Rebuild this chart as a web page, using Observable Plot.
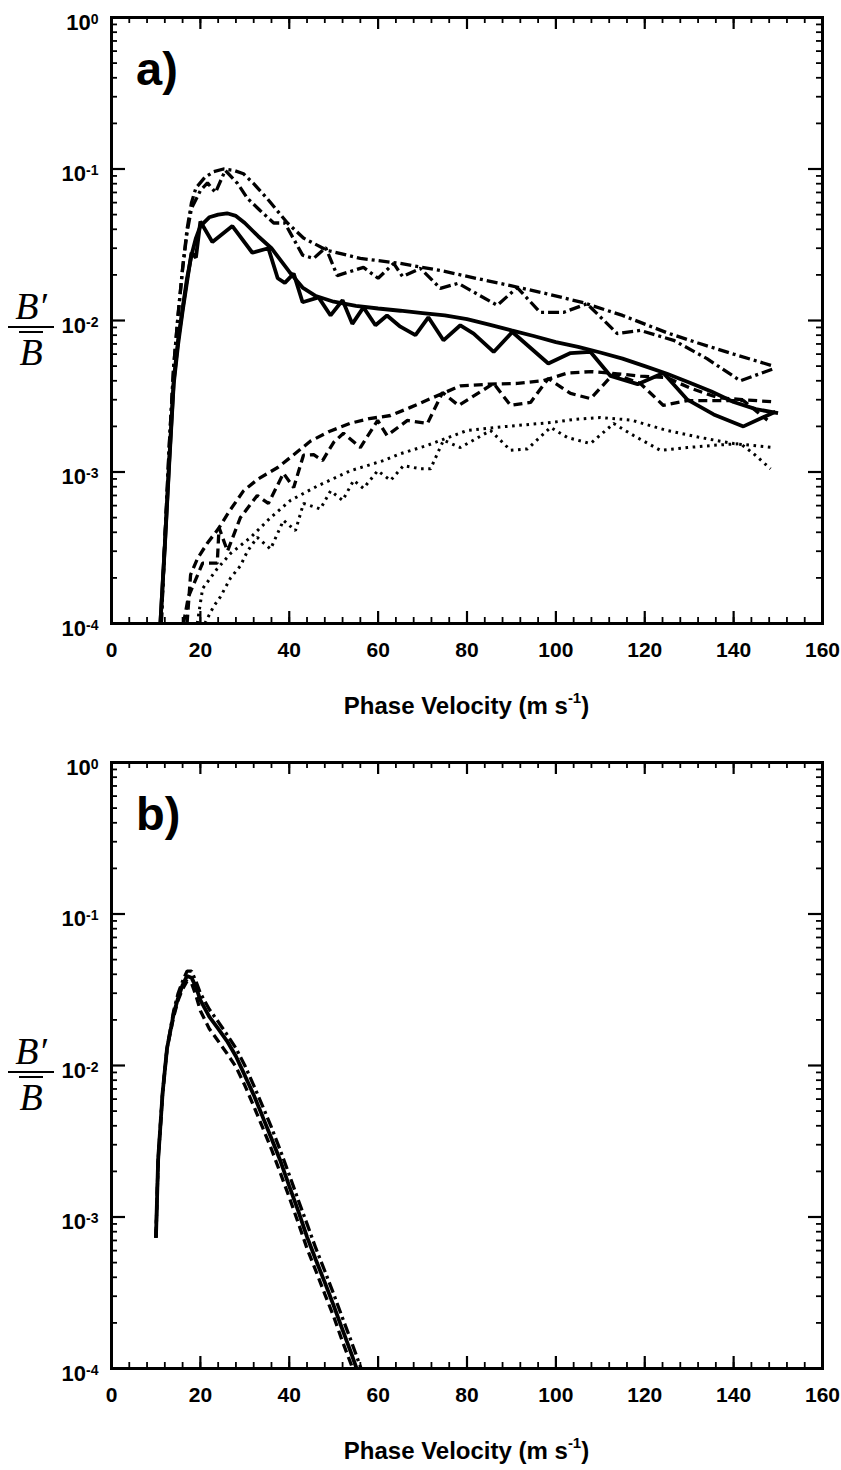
<!DOCTYPE html>
<html><head><meta charset="utf-8">
<script src="https://cdn.jsdelivr.net/npm/d3@7"></script>
<script src="https://cdn.jsdelivr.net/npm/@observablehq/plot@0.6"></script>
<style>
body{margin:0;background:#fff;}
#wrap{position:relative;width:841px;height:1470px;font-family:"Liberation Sans",Arial,Helvetica,sans-serif;}
.panel{position:absolute;left:0;}
.xtitle{position:absolute;left:111px;width:711px;text-align:center;font-weight:bold;font-size:24px;line-height:28px;}
.xtitle sup{font-size:15px;position:relative;top:-2px;}
.plabel{position:absolute;left:136px;font-weight:bold;font-size:47px;line-height:50px;}
.frac{position:absolute;left:8px;width:46px;text-align:center;font-family:"Liberation Serif","Times New Roman",serif;font-style:italic;font-size:38px;line-height:36px;}
.frac .bar{border-top:2.5px solid #000;margin:2px 0 3px 0;}
.frac .ov{display:inline-block;border-top:2.5px solid #000;padding-top:2px;line-height:34px;}
</style>
</head><body>
<div id="wrap">
  <div id="pa" class="panel" style="top:0px"></div>
  <div id="pb" class="panel" style="top:745px"></div>
  <div class="plabel" style="top:44px">a)</div>
  <div class="plabel" style="top:789px">b)</div>
  <div class="frac" style="top:288px"><div>B′</div><div class="bar"></div><span class="ov">B</span></div>
  <div class="frac" style="top:1033px"><div>B′</div><div class="bar"></div><span class="ov">B</span></div>
  <div class="xtitle" style="top:686px">Phase Velocity (m s<sup>-1</sup>)</div>
  <div class="xtitle" style="top:1431px">Phase Velocity (m s<sup>-1</sup>)</div>
</div>
<script>
// ---------------- Panel a data ----------------
const aSolidSmoothX = [11, 12, 13, 14, 15, 16, 17, 18, 19, 20, 22, 24, 26, 28, 30, 33, 36, 40, 43, 46, 50, 55, 60, 65, 70, 75, 80, 85, 90, 95, 100, 105, 110, 115, 120, 125, 130, 135, 140, 145, 150];
const aSolidSmoothY = [1.0e-4, 3.3e-4, 1.2e-3, 4.0e-3, 7.5e-3, 1.2e-2, 1.9e-2, 2.7e-2, 3.5e-2, 4.2e-2, 4.8e-2, 5.0e-2, 5.1e-2, 4.9e-2, 4.4e-2, 3.6e-2, 3.0e-2, 2.1e-2, 1.65e-2, 1.45e-2, 1.33e-2, 1.25e-2, 1.2e-2, 1.16e-2, 1.12e-2, 1.08e-2, 1.02e-2, 9.4e-3, 8.6e-3, 7.9e-3, 7.2e-3, 6.7e-3, 6.15e-3, 5.6e-3, 5.0e-3, 4.45e-3, 3.9e-3, 3.4e-3, 2.9e-3, 2.6e-3, 2.45e-3];

const aSolidJagX = [11, 12, 13, 14, 15, 16, 17, 18, 19, 20, 22.7, 27.2, 31.7, 35.3, 37.4, 39, 41, 43, 46.6, 49.3, 52, 54.2, 56.7, 59.4, 62, 65, 68.4, 71.3, 74.7, 78.5, 81.5, 86, 90.2, 98.3, 103.3, 107.8, 112.3, 118.4, 124.2, 129.6, 135.5, 142.2, 149.4];
const aSolidJagY = [1.0e-4, 3.2e-4, 1.15e-3, 3.8e-3, 7.0e-3, 1.15e-2, 1.8e-2, 2.8e-2, 2.6e-2, 4.5e-2, 3.3e-2, 4.2e-2, 2.8e-2, 3.0e-2, 1.9e-2, 1.77e-2, 2.04e-2, 1.32e-2, 1.42e-2, 1.08e-2, 1.36e-2, 9.5e-3, 1.22e-2, 9.3e-3, 1.08e-2, 9.1e-3, 8.0e-3, 1.05e-2, 7.4e-3, 9.3e-3, 8.2e-3, 6.2e-3, 8.4e-3, 5.2e-3, 6.1e-3, 6.2e-3, 4.3e-3, 3.8e-3, 4.5e-3, 3.0e-3, 2.4e-3, 2.0e-3, 2.5e-3];

const aDashDotSmoothX = [11.2, 12, 13, 14, 15, 16, 17, 18, 19, 21, 23, 25.2, 27.5, 29.7, 32, 35, 39.6, 43.2, 48.6, 56, 65, 74, 82, 89.8, 98, 106.2, 115, 125, 132, 140, 149];
const aDashDotSmoothY = [1.0e-4, 3.5e-4, 1.5e-3, 5.0e-3, 1.1e-2, 2.2e-2, 4.0e-2, 6.0e-2, 7.5e-2, 8.8e-2, 9.6e-2, 1.0e-1, 9.8e-2, 9.3e-2, 8.0e-2, 6.4e-2, 4.4e-2, 3.5e-2, 2.9e-2, 2.57e-2, 2.38e-2, 2.14e-2, 1.9e-2, 1.7e-2, 1.5e-2, 1.31e-2, 1.08e-2, 8.3e-3, 7.1e-3, 6.0e-3, 5.0e-3];

const aDashDotJagX = [11.2, 12, 13, 14, 15, 16, 17, 18, 20, 21.6, 23.4, 25.6, 28.4, 30.6, 33.5, 36.5, 39, 43, 45.5, 48.2, 50.8, 56.7, 60, 63.5, 65.5, 69.5, 74, 78, 86.8, 91.3, 96.5, 101.7, 107, 113.8, 119, 126.5, 134, 141.5, 149];
const aDashDotJagY = [1.0e-4, 3.5e-4, 1.5e-3, 5.0e-3, 1.1e-2, 2.2e-2, 3.8e-2, 5.5e-2, 7.2e-2, 8.1e-2, 7.0e-2, 9.8e-2, 8.0e-2, 6.4e-2, 5.3e-2, 4.4e-2, 4.4e-2, 2.7e-2, 2.57e-2, 3.03e-2, 1.98e-2, 2.24e-2, 1.9e-2, 2.38e-2, 1.95e-2, 2.21e-2, 1.63e-2, 1.76e-2, 1.26e-2, 1.65e-2, 1.13e-2, 1.13e-2, 1.29e-2, 8.2e-3, 8.6e-3, 7.4e-3, 5.6e-3, 4.0e-3, 4.8e-3];

const aDashSmoothX = [17, 17.8, 19.4, 21.6, 24, 26.5, 29.7, 33, 37.4, 41, 44.8, 49, 53.8, 58, 62.8, 67, 71.8, 78.5, 85, 91.4, 97, 102.6, 108, 113.9, 119, 125, 130, 136.4, 142, 149.4];
const aDashSmoothY = [1.0e-4, 2.1e-4, 2.7e-4, 3.4e-4, 4.2e-4, 5.5e-4, 7.5e-4, 9.0e-4, 1.07e-3, 1.3e-3, 1.6e-3, 1.85e-3, 2.1e-3, 2.25e-3, 2.36e-3, 2.65e-3, 3.05e-3, 3.7e-3, 3.8e-3, 3.84e-3, 4.0e-3, 4.5e-3, 4.6e-3, 4.45e-3, 4.3e-3, 4.2e-3, 3.6e-3, 3.1e-3, 3.0e-3, 2.9e-3];

const aDashJagX = [16.2, 17.3, 20.5, 23.8, 24.2, 26.1, 29, 32.8, 35.3, 38.7, 41, 43.2, 45.5, 47.5, 50, 52.2, 56, 59.9, 62, 66.6, 71.1, 74.5, 78.1, 86, 89.8, 94.3, 98.3, 103.3, 107.8, 113, 119, 124.2, 129.6, 135.5, 142.2, 147.6];
const aDashJagY = [1.0e-4, 1.5e-4, 2.5e-4, 2.5e-4, 4.3e-4, 3.0e-4, 5.0e-4, 7.0e-4, 6.2e-4, 9.8e-4, 7.9e-4, 1.29e-3, 1.3e-3, 1.19e-3, 1.57e-3, 1.8e-3, 1.45e-3, 2.19e-3, 1.74e-3, 2.19e-3, 2.09e-3, 3.35e-3, 2.75e-3, 3.84e-3, 2.75e-3, 2.88e-3, 4.14e-3, 3.3e-3, 3.05e-3, 4.45e-3, 3.84e-3, 2.75e-3, 2.96e-3, 2.96e-3, 2.96e-3, 2.2e-3];

const aDotSmoothX = [19.3, 20.5, 23.8, 26.8, 31.3, 35.8, 40.3, 46.4, 53.8, 61.2, 65, 71.1, 80, 89, 98.8, 104, 110, 117, 125, 132, 140, 149];
const aDotSmoothY = [1.0e-4, 1.7e-4, 2.3e-4, 2.9e-4, 3.7e-4, 5.0e-4, 6.5e-4, 8.1e-4, 1.02e-3, 1.19e-3, 1.32e-3, 1.5e-3, 1.88e-3, 2.0e-3, 2.12e-3, 2.22e-3, 2.29e-3, 2.2e-3, 1.88e-3, 1.7e-3, 1.54e-3, 1.45e-3];

const aDotJagX = [21, 23, 24.5, 26.8, 29, 30.6, 32.8, 35.8, 38.7, 41.4, 43.2, 47, 49.3, 52, 54.5, 56.7, 59.9, 62.8, 65.7, 69.5, 71.8, 74.7, 78.5, 85.3, 89.8, 93.6, 98.8, 102.6, 107.8, 113, 117.5, 123.5, 129.6, 135.5, 141.5, 144.5, 148.3];
const aDotJagY = [1.0e-4, 1.3e-4, 1.5e-4, 2.0e-4, 2.4e-4, 3.0e-4, 3.7e-4, 3.1e-4, 4.8e-4, 4.1e-4, 6.2e-4, 5.7e-4, 7.5e-4, 6.5e-4, 8.8e-4, 7.8e-4, 1.02e-3, 8.8e-4, 1.1e-3, 1.05e-3, 1.05e-3, 1.62e-3, 1.45e-3, 1.88e-3, 1.39e-3, 1.42e-3, 1.97e-3, 1.69e-3, 1.54e-3, 2.09e-3, 1.74e-3, 1.39e-3, 1.45e-3, 1.5e-3, 1.54e-3, 1.32e-3, 1.05e-3];

// ---------------- Panel b data ----------------
const bX = [10, 10.5, 11.5, 12.5, 14, 15, 16, 17, 18, 19, 20, 22, 24, 26, 28, 30, 32, 34, 36, 38, 40, 42, 44, 46, 48, 50, 52, 54, 56];
const bSolidY = [7.3e-4, 2.4e-3, 6.6e-3, 1.3e-2, 2.2e-2, 2.8e-2, 3.4e-2, 3.9e-2, 3.8e-2, 3.3e-2, 2.7e-2, 2.1e-2, 1.75e-2, 1.45e-2, 1.15e-2, 8.6e-3, 6.4e-3, 4.6e-3, 3.3e-3, 2.35e-3, 1.6e-3, 1.1e-3, 7.4e-4, 5.2e-4, 3.7e-4, 2.6e-4, 1.8e-4, 1.25e-4, 8.5e-5];
const bDashDotX = [10, 10.5, 11.5, 12.5, 14, 15, 16, 17, 18, 19, 20, 22, 24, 26, 28, 30, 32, 34, 36, 38, 40, 42, 44, 46, 48, 50, 52, 54, 56, 57];
const bDashDotY = [7.3e-4, 2.4e-3, 6.6e-3, 1.3e-2, 2.3e-2, 3.0e-2, 3.6e-2, 4.2e-2, 4.2e-2, 3.6e-2, 3.0e-2, 2.35e-2, 1.95e-2, 1.6e-2, 1.3e-2, 1.0e-2, 7.4e-3, 5.4e-3, 3.9e-3, 2.75e-3, 1.9e-3, 1.3e-3, 9.0e-4, 6.2e-4, 4.4e-4, 3.1e-4, 2.15e-4, 1.5e-4, 1.03e-4, 8.5e-5];
const bDashY = [7.3e-4, 2.4e-3, 6.6e-3, 1.3e-2, 2.1e-2, 2.7e-2, 3.2e-2, 3.6e-2, 3.5e-2, 2.9e-2, 2.3e-2, 1.75e-2, 1.45e-2, 1.2e-2, 9.8e-3, 7.4e-3, 5.4e-3, 3.9e-3, 2.8e-3, 1.95e-3, 1.35e-3, 9.2e-4, 6.2e-4, 4.4e-4, 3.1e-4, 2.2e-4, 1.5e-4, 1.05e-4, 7.2e-5];

// ---------------- axes ----------------
const xDomain = [0, 160];
const yDomain = [1e-4, 1];
const xLabelTicks = [0, 20, 40, 60, 80, 100, 120, 140, 160];
const xMinorStep = 4;
const yLabelTicks = [1, 1e-1, 1e-2, 1e-3, 1e-4];
const yMinorMultipliers = [2, 3, 4, 5, 6, 7, 8, 9];

const xMinorTicks = d3.range(xDomain[0], xDomain[1] + 0.1, xMinorStep);
const yMinorTicks = yLabelTicks.slice(1).flatMap(d => yMinorMultipliers.map(m => m * d));

const STYLES = {
  solid:   {w: 3.8, dash: null},
  dashdot: {w: 3.3, dash: "11,4,3,4"},
  dash:    {w: 3.3, dash: "9,5"},
  dot:     {w: 3.0, dash: "2.6,4.6"}
};

const W = 841, H = 672, ML = 111, MR = 19, MT = 17, MB = 49;
const FW = W - ML - MR, FH = H - MT - MB;

function rows(xs, ys) { return xs.map((x, i) => ({x, y: ys[i]})); }

function panel(series) {
  const marks = [];
  for (const s of series) {
    marks.push(Plot.line(rows(s.x, s.y), {
      x: "x", y: "y", stroke: "black", strokeWidth: STYLES[s.style].w,
      strokeDasharray: STYLES[s.style].dash, strokeLinecap: "butt",
      strokeLinejoin: "miter", clip: true
    }));
  }
  // inward ticks on all four sides
  marks.push(Plot.ruleX(xLabelTicks, {x: d => d, insetTop: FH - 12, stroke: "black", strokeWidth: 2.2}));
  marks.push(Plot.ruleX(xLabelTicks, {x: d => d, insetBottom: FH - 12, stroke: "black", strokeWidth: 2.2}));
  marks.push(Plot.ruleX(xMinorTicks, {x: d => d, insetTop: FH - 6, stroke: "black", strokeWidth: 1.8}));
  marks.push(Plot.ruleX(xMinorTicks, {x: d => d, insetBottom: FH - 6, stroke: "black", strokeWidth: 1.8}));
  marks.push(Plot.ruleY(yLabelTicks, {y: d => d, insetRight: FW - 14, stroke: "black", strokeWidth: 2.2}));
  marks.push(Plot.ruleY(yLabelTicks, {y: d => d, insetLeft: FW - 14, stroke: "black", strokeWidth: 2.2}));
  marks.push(Plot.ruleY(yMinorTicks, {y: d => d, insetRight: FW - 6, stroke: "black", strokeWidth: 1.8}));
  marks.push(Plot.ruleY(yMinorTicks, {y: d => d, insetLeft: FW - 6, stroke: "black", strokeWidth: 1.8}));
  marks.push(Plot.axisX({anchor: "bottom", ticks: xLabelTicks, tickSize: 0, tickPadding: 19, label: null,
    tickFormat: d => String(d), fontSize: 21, fontWeight: "bold", fill: "black"}));
  marks.push(Plot.axisY({anchor: "left", ticks: yLabelTicks, tickSize: 0, tickPadding: 13, label: null,
    tickFormat: d => String(Math.round(Math.log10(d))), fontSize: 22, fontWeight: "bold", fill: "black", dy: 5}));
  marks.push(Plot.frame({stroke: "black", strokeWidth: 3}));

  const svg = Plot.plot({
    width: W, height: H,
    marginLeft: ML, marginRight: MR, marginTop: MT, marginBottom: MB,
    style: {fontFamily: '"Liberation Sans", Arial, Helvetica, sans-serif', background: "white", overflow: "visible"},
    x: {type: "linear", domain: xDomain, label: null},
    y: {type: "log", domain: yDomain, label: null},
    marks
  });
  // exponent labels: "10" with a superscript power
  const ns = "http://www.w3.org/2000/svg";
  svg.querySelectorAll('[aria-label="y-axis tick label"] text').forEach(t => {
    const e = t.textContent;
    if (e === "") return;
    t.textContent = "10";
    const ts = document.createElementNS(ns, "tspan");
    ts.setAttribute("dy", "-0.42em");
    ts.setAttribute("font-size", "14");
    ts.textContent = e;
    t.appendChild(ts);
  });
  return svg;
}

const seriesA = [
  {x: aDotSmoothX, y: aDotSmoothY, style: "dot"},
  {x: aDotJagX, y: aDotJagY, style: "dot"},
  {x: aDashSmoothX, y: aDashSmoothY, style: "dash"},
  {x: aDashJagX, y: aDashJagY, style: "dash"},
  {x: aDashDotSmoothX, y: aDashDotSmoothY, style: "dashdot"},
  {x: aDashDotJagX, y: aDashDotJagY, style: "dashdot"},
  {x: aSolidSmoothX, y: aSolidSmoothY, style: "solid"},
  {x: aSolidJagX, y: aSolidJagY, style: "solid"}
];
const seriesB = [
  {x: bDashDotX, y: bDashDotY, style: "dashdot"},
  {x: bX, y: bDashY, style: "dash"},
  {x: bX, y: bSolidY, style: "solid"}
];

document.getElementById("pa").appendChild(panel(seriesA));
document.getElementById("pb").appendChild(panel(seriesB));
</script>
</body></html>
